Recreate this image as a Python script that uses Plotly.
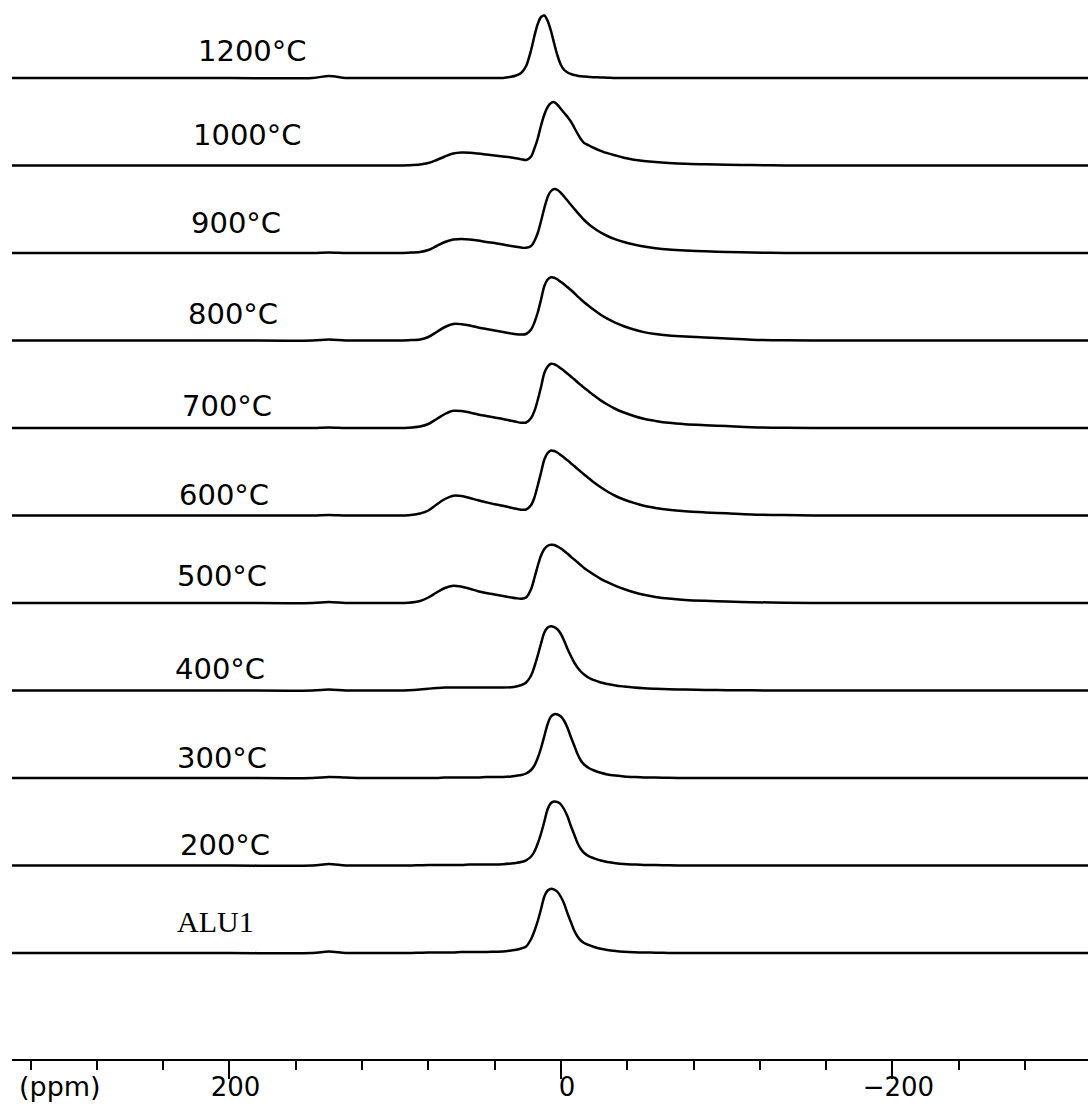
import plotly.graph_objects as go

# chemical shift grid (ppm), shared by all spectra
PPM = ([332, 250, 200, 150, 140, 130, 120, 110] +
       [100, 92, 85, 80, 75, 70, 65, 60, 55, 50, 45, 40, 35, 30, 27, 24, 21] +
       [18, 16, 14, 12, 10, 8, 6, 4, 2, 0, -2, -4, -6, -8, -10, -12, -14] +
       [-17, -20, -24, -28, -33, -38, -44, -50, -57, -65, -75, -87, -100, -115, -135,
        -160, -200, -250, -320])

# intensities (arbitrary units), bottom spectrum first
ALU1 = ([0, 0, 0, 0, 1.5, 0, 0, 0] +
        [0, 0, 0.3, 0.5, 0.5, 0.5, 0.5, 1, 1, 1, 1, 1.3, 1.5, 2.5, 3.2, 4.5, 6.5] +
        [14, 22, 32, 44, 56.5, 62.5, 64.3, 63.3, 61, 56, 49, 39.5, 31, 22.5, 16.5, 12.5, 10] +
        [7.8, 6, 4.2, 3, 2, 1.3, 0.8, 0.5, 0.3, 0.1, 0, 0, 0, 0, 0, 0, 0, 0, 0])
T200 = ([0, 0, 0, 0, 1.5, 0, 0, 0] +
        [0, 0, 0.3, 0.5, 0.5, 0.5, 0.5, 0.5, 1, 1, 1, 1, 1.3, 2, 2.6, 3.5, 5.2] +
        [9, 14, 22, 32, 44, 56.5, 62.5, 64, 63.3, 61, 56, 49, 39.5, 31, 22.5, 16.5, 12.5] +
        [9.2, 7.2, 5, 3.5, 2.3, 1.5, 1, 0.6, 0.4, 0.15, 0, 0, 0, 0, 0, 0, 0, 0, 0])
T300 = ([0, 0, 0, 0, 1, 0.5, 0, 0] +
        [0, 0, 0, 0, 0, 0.5, 0.5, 0.5, 0.5, 0.5, 1, 1, 1, 1.5, 2.2, 3, 4.5] +
        [8, 12.5, 20, 30, 42, 54, 61.5, 63.8, 63.5, 61.5, 57, 50, 41, 32.5, 24, 17.5, 13.5] +
        [9.8, 7.5, 5.2, 3.6, 2.4, 1.5, 1, 0.6, 0.4, 0.15, 0, 0, 0, 0, 0, 0, 0, 0, 0])
T400 = ([0, 0, 0, 0, 1, 0, 0, 0] +
        [0, 0.3, 1, 1.8, 2.5, 3, 3, 3, 3, 3, 3, 3, 3, 3.3, 4, 5.3, 8] +
        [15, 24, 35, 47, 58, 63, 64.3, 63.3, 61, 56.5, 49.5, 41.5, 34.5, 28, 23, 19, 16] +
        [12.5, 10.3, 8, 6.5, 5, 4, 3, 2.3, 1.8, 1.35, 0.95, 0.6, 0.33, 0.15, 0, 0, 0, 0, 0])
T500 = ([0, 0, 0, 0, 1, 0, 0, 0] +
        [0, 0.3, 2, 5.5, 10.5, 15, 17.2, 16.3, 14.3, 11.8, 10, 8.5, 7, 5.5, 4.8, 4.3, 5.5] +
        [14, 25, 37, 47.5, 54, 57.3, 58.3, 58, 56.5, 54.5, 52, 49.2, 46.3, 43.5, 40.7, 37.8, 35] +
        [31.5, 28.3, 24.2, 20.8, 17.2, 14, 10.8, 8.2, 6.1, 4.4, 3.1, 2.2, 1.5, 0.85, 0.3, 0, 0, 0, 0])
T600 = ([0, 0, 0, 0, 0.5, 0, 0, 0] +
        [0, 0.3, 2, 5, 11, 16.5, 19.8, 19.5, 17.5, 15.2, 13.2, 11.3, 9.7, 7.8, 6.7, 5.8, 6] +
        [10.5, 18, 30, 43, 56, 62.5, 65, 64.5, 62.8, 60.3, 57.8, 55.1, 52.3, 49.5, 46.6, 43.8, 41] +
        [37, 33, 28.2, 24, 19.5, 16, 12.6, 9.8, 7.6, 5.7, 4.2, 3.1, 2.2, 1.1, 0.4, 0, 0, 0, 0])
T700 = ([0, 0, 0, 0, 0.5, 0, 0, 0] +
        [0, 0.3, 1.5, 4, 9, 14, 17.2, 17, 15.5, 13.5, 12, 10.5, 9, 7.2, 6.2, 5.3, 5.5] +
        [10, 17, 28, 41, 55, 61.5, 64.3, 63.8, 62, 59.5, 57, 54.3, 51.5, 48.7, 45.8, 43, 40.2] +
        [36.3, 32.4, 27.6, 23.5, 19, 15.5, 12, 9.2, 7.1, 5.2, 3.8, 2.8, 1.9, 0.8, 0.2, 0, 0, 0, 0])
T800 = ([0, 0, 0, 0, 1, 0, 0, 0] +
        [0, 0.3, 1, 3.5, 8.5, 13.5, 16.5, 16.3, 15, 13, 11.5, 10, 8.5, 7, 6.3, 6, 6.5] +
        [11, 18, 28, 41, 54.5, 61, 63.3, 62.8, 61, 58.5, 56, 53.3, 50.5, 47.5, 44.2, 41.2, 38.3] +
        [34.3, 30.5, 25.8, 21.8, 17.6, 14.3, 11, 8.4, 6.5, 5.1, 4, 3, 1.9, 0.8, 0.2, 0, 0, 0, 0])
T900 = ([0, 0, 0, 0, 0.5, 0, 0, 0] +
        [0, 0.3, 1, 3, 7, 11, 13.5, 14, 13.5, 12.5, 11, 10, 8.5, 7, 6.2, 5.4, 5.2] +
        [7, 12, 20, 32, 45, 56, 62, 64, 63, 60, 56.3, 52.3, 48.3, 44.3, 40.4, 36.6, 33] +
        [28.5, 24.8, 20.5, 17, 13.6, 11, 8.5, 6.4, 4.8, 3.5, 2.5, 1.7, 1.1, 0.5, 0.1, 0, 0, 0, 0])
T1000 = ([0, 0, 0, 0, 0, 0, 0, 0] +
         [0, 0.3, 1, 2.5, 5.5, 9, 12, 13, 12.8, 12, 11, 10, 9, 8, 7.2, 6.3, 5.5] +
         [9, 17, 27, 40, 51, 58.5, 62.5, 63.3, 60.5, 56.5, 52.5, 48.5, 44, 38, 32, 26.5, 22.5] +
         [20, 17.5, 14.7, 12.4, 10, 7.8, 5.8, 4.5, 3.4, 2.5, 1.7, 1.25, 0.85, 0.4, 0.1, 0, 0, 0, 0])
T1200 = ([0, 0, 0, 0, 2, 0, 0, 0] +
         [0, 0, 0, 0, 0, 0, 0, 0, 0, 0, 0, 0, 0, 1.2, 2.5, 5, 12] +
         [28, 42, 54, 61, 62.5, 57, 47, 34, 22, 13, 8, 5.5, 4, 3, 2.3, 1.8, 1.4] +
         [1.1, 0.8, 0.5, 0.3, 0, 0, 0, 0, 0, 0, 0, 0, 0, 0, 0, 0, 0, 0, 0])

LABELS = ["ALU1", "200°C", "300°C", "400°C", "500°C", "600°C",
          "700°C", "800°C", "900°C", "1000°C", "1200°C"]
SPECTRA = [ALU1, T200, T300, T400, T500, T600, T700, T800, T900, T1000, T1200]

# label placement (ppm position, height above baseline)
LABEL_X = [208.7, 202.7, 204.5, 206.0, 204.5, 203.3, 201.5, 197.6, 195.8, 189.4, 185.8]
LABEL_RISE = [32, 22, 21, 23, 28, 22, 23, 28, 31, 32, 28]

SPACING = 87.5

fig = go.Figure()
for i, (name, ys) in enumerate(zip(LABELS, SPECTRA)):
    off = i * SPACING
    fig.add_trace(go.Scatter(
        x=PPM, y=[v + off for v in ys], mode="lines", name=name,
        line=dict(color="black", width=2.5, shape="spline", smoothing=0.9),
        showlegend=False, hoverinfo="skip"))
    serif = name == "ALU1"
    fig.add_annotation(
        x=LABEL_X[i], y=off + LABEL_RISE[i] + (0 if serif else -1),
        xref="x", yref="y",
        text=name, showarrow=False, xanchor="center", yanchor="middle",
        font=dict(family="Liberation Serif" if serif else "DejaVu Sans",
                  size=30 if serif else 29, color="black"))

fig.add_annotation(x=(60 - 12) / 1076, y=-27 / 1059, xref="paper", yref="paper",
                   text="(ppm)", showarrow=False, xanchor="center", yanchor="middle",
                   font=dict(family="DejaVu Sans", size=27, color="black"))

fig.update_layout(
    width=1088, height=1104,
    margin=dict(l=12, r=0, t=0, b=45),
    paper_bgcolor="white", plot_bgcolor="white",
    xaxis=dict(range=[331.2, -318], tick0=0, dtick=200, ticks="outside",
               ticklen=18, tickwidth=2, tickcolor="black",
               showline=True, linecolor="black", linewidth=2,
               showgrid=False, zeroline=False, automargin=False,
               tickfont=dict(family="DejaVu Sans", size=26, color="black"),
               ticklabelshift=-6, ticklabelstandoff=-14,
               minor=dict(dtick=40, tick0=0, ticks="outside", ticklen=9,
                          tickwidth=2, tickcolor="black", showgrid=False)),
    yaxis=dict(range=[-106, 953], visible=False, showgrid=False,
               zeroline=False, fixedrange=True),
)

fig.write_html("out.html")
